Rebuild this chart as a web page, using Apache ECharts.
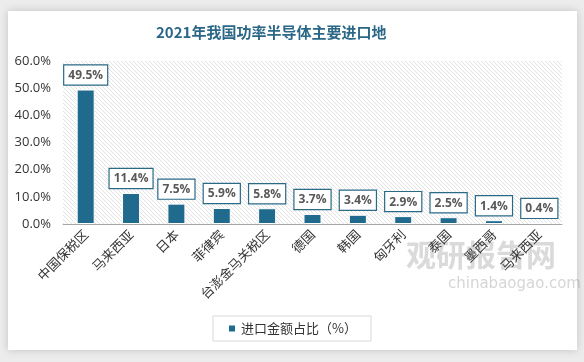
<!DOCTYPE html>
<html><head><meta charset="utf-8">
<script src="https://cdn.jsdelivr.net/npm/echarts@6/dist/echarts.min.js"></script>
<style>html,body{margin:0;padding:0;background:#ececec;}#c{width:584px;height:362px;}</style>
</head><body><div id="c"></div>
<script>
const categories = ['中国保税区','马来西亚','日本','菲律宾','台澎金马关税区','德国','韩国','匈牙利','泰国','墨西哥','马来西亚'];
const values = [49.5, 11.4, 7.5, 5.9, 5.8, 3.7, 3.4, 2.9, 2.5, 1.4, 0.4];
const yTicks = [0, 10, 20, 30, 40, 50, 60];
const seriesName = '进口金额占比（%）';
const titleText = '2021年我国功率半导体主要进口地';

// hatch pattern
const pc = document.createElement('canvas');
pc.width = 4; pc.height = 4;
const px = pc.getContext('2d');
px.fillStyle = '#ffffff'; px.fillRect(0,0,4,4);
px.strokeStyle = '#d6d6d6'; px.lineWidth = 0.7;
px.beginPath(); px.moveTo(0,0); px.lineTo(4,4); px.moveTo(-1,3); px.lineTo(1,5); px.moveTo(3,-1); px.lineTo(5,1); px.stroke();

const chart = echarts.init(document.getElementById('c'), null, {renderer:'canvas'});
chart.setOption({
  backgroundColor: '#ececec',
  animation: false,
  graphic: [
    {type:'rect', shape:{x:8,y:11,width:569,height:339}, style:{fill:'#ffffff', shadowBlur:8, shadowColor:'rgba(0,0,0,0.18)'}, z:-10, silent:true},
    {type:'text', left:406, top:240, style:{text:'观研报告网', font:'bold 30px "Noto Sans CJK SC"', fill:'rgba(150,150,150,0.35)'}, z:0, silent:true},
    {type:'text', left:448, top:277, style:{text:'chinabaogao.com', font:'15px "DejaVu Sans"', fill:'rgba(150,150,150,0.4)'}, z:0, silent:true}
  ],
  title: {
    text: titleText, left: 151, top: 20,
    textStyle: {fontSize: 15, fontWeight: 'bold', color: '#2b6887', fontFamily: '"Noto Sans CJK SC"'}
  },
  grid: {left: 63, right: 22, top: 61, bottom: 138, show: true, borderWidth: 0,
    backgroundColor: {image: pc, repeat: 'repeat'}},
  legend: {
    data: [seriesName], left: 'center', top: 316,
    borderColor: '#d9d9d9', borderWidth: 1, padding: [6, 14],
    itemWidth: 8, itemHeight: 8, icon: 'rect', itemGap: 4,
    textStyle: {fontSize: 13, color: '#333', fontFamily: '"Noto Sans CJK SC"'}
  },
  xAxis: {
    type: 'category', data: categories,
    axisLine: {lineStyle: {color: '#a6a6a6', width: 1}},
    axisTick: {show: false},
    axisLabel: {rotate: 45, interval: 0, margin: 8, fontSize: 13, color: '#333', fontFamily: '"Noto Sans CJK SC"'}
  },
  yAxis: {
    type: 'value', min: yTicks[0], max: yTicks[yTicks.length-1], interval: 10,
    axisLine: {show: false}, axisTick: {show: false},
    splitLine: {show: false},
    axisLabel: {formatter: v => v.toFixed(1) + '%', fontSize: 13, color: '#333', margin: 12, fontFamily: '"Open Sans"'}
  },
  series: [{
    name: seriesName, type: 'bar', data: values, barWidth: 18,
    itemStyle: {color: '#1f6a8d', borderColor: '#ffffff', borderWidth: 1},
    label: {
      show: true, position: 'top', distance: 5,
      formatter: p => p.value.toFixed(1) + '%',
      backgroundColor: '#ffffff', borderColor: '#2a6a87', borderWidth: 1.2,
      padding: [4, 4, 3, 4], color: '#595959', fontWeight: 'bold', fontSize: 12,
      fontFamily: '"Open Sans"'
    }
  }]
});
</script></body></html>
